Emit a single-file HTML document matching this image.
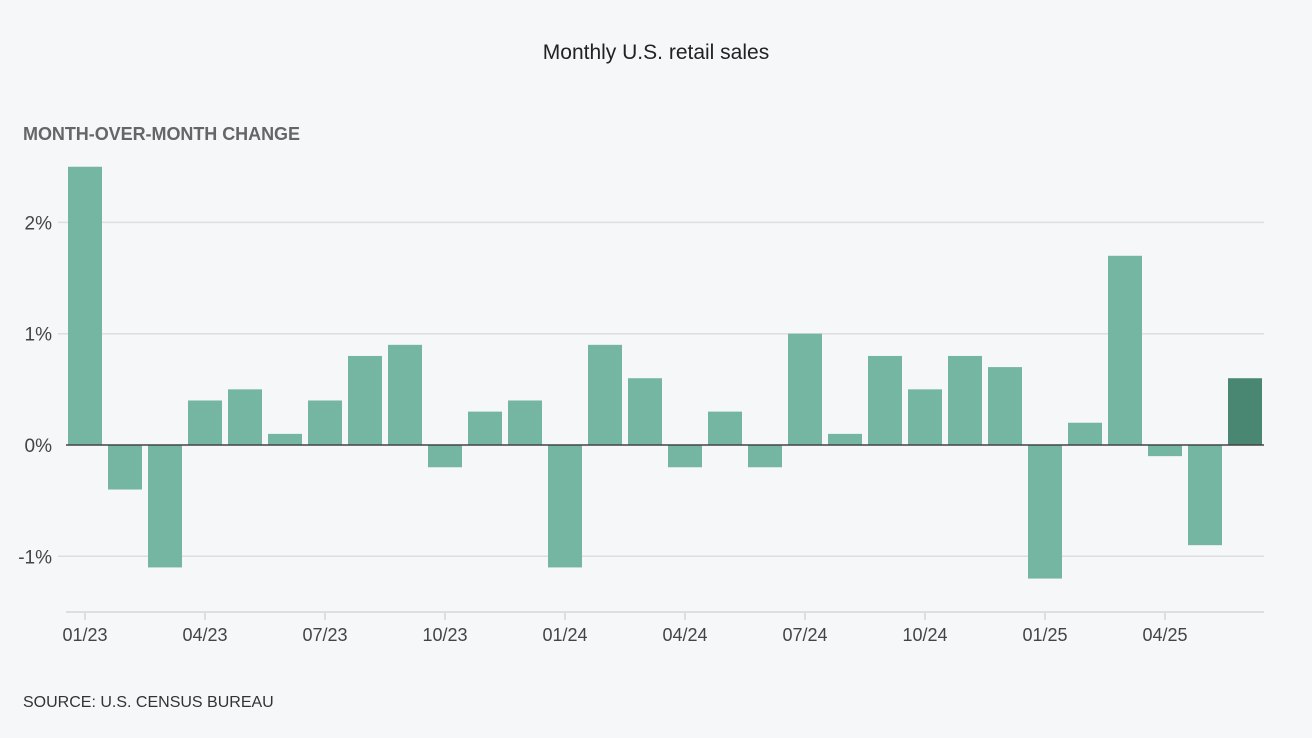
<!DOCTYPE html>
<html><head><meta charset="utf-8"><style>
body{margin:0;background:#f6f7f9;}
svg{display:block;font-family:"Liberation Sans",sans-serif;}
</style></head><body>
<svg width="1312" height="738">
<rect width="1312" height="738" fill="#f6f7f9"/>
<text x="656" y="59" text-anchor="middle" font-size="21" fill="#222">Monthly U.S. retail sales</text>
<text x="23" y="140" font-size="18" font-weight="bold" fill="#666" textLength="277">MONTH-OVER-MONTH CHANGE</text>
<g id="grid"></g><g id="bars"></g><g id="xaxis"></g>
<text x="23" y="707" font-size="16" fill="#333">SOURCE: U.S. CENSUS BUREAU</text>
</svg>
<script>
const months=["01/23","02/23","03/23","04/23","05/23","06/23","07/23","08/23","09/23","10/23","11/23","12/23","01/24","02/24","03/24","04/24","05/24","06/24","07/24","08/24","09/24","10/24","11/24","12/24","01/25","02/25","03/25","04/25","05/25","06/25"];
const values=[2.5,-0.4,-1.1,0.4,0.5,0.1,0.4,0.8,0.9,-0.2,0.3,0.4,-1.1,0.9,0.6,-0.2,0.3,-0.2,1.0,0.1,0.8,0.5,0.8,0.7,-1.2,0.2,1.7,-0.1,-0.9,0.6];
const yTicks=[-1,0,1,2];
const yTickLabels=["-1%","0%","1%","2%"];
const xTickLabels=["01/23","04/23","07/23","10/23","01/24","04/24","07/24","10/24","01/25","04/25"];
const NS="http://www.w3.org/2000/svg";
const y=v=>445-v*111.3;
const x=i=>85+i*40;
function mk(t,a,p){const e=document.createElementNS(NS,t);for(const k in a)e.setAttribute(k,a[k]);p.appendChild(e);return e;}
const grid=document.getElementById('grid'),bars=document.getElementById('bars'),xa=document.getElementById('xaxis');
yTicks.forEach((t,i)=>{
 if(t!==0){const l=mk('line',{x1:58,x2:1264,y1:y(t),y2:y(t),stroke:'#dddee0','stroke-width':1.5},grid);
 
 }
 const tx=mk('text',{x:52,y:y(t)+7,'text-anchor':'end','font-size':19,fill:'#444'},grid);tx.textContent=yTickLabels[i];
 
 
});
values.forEach((v,i)=>{
 const r=mk('rect',{x:x(i)-17,width:34,y:Math.min(y(v),y(0)),height:Math.abs(y(v)-y(0)),fill:i===values.length-1?'#4a8773':'#75b6a2'},bars);
 
 
});
const z=mk('line',{x1:66,x2:1264,y1:y(0),y2:y(0),stroke:'#444','stroke-width':1.5},bars);


const ax=mk('line',{x1:66,x2:1264,y1:612,y2:612,stroke:'#dddee0','stroke-width':2},xa);


xTickLabels.forEach(lb=>{
 const i=months.indexOf(lb);
 mk('line',{x1:x(i),x2:x(i),y1:612,y2:620,stroke:'#dddee0','stroke-width':2},xa);
 const t=mk('text',{x:x(i),y:641,'text-anchor':'middle','font-size':18,fill:'#444'},xa);t.textContent=lb;
 
 
});
</script>
</body></html>
